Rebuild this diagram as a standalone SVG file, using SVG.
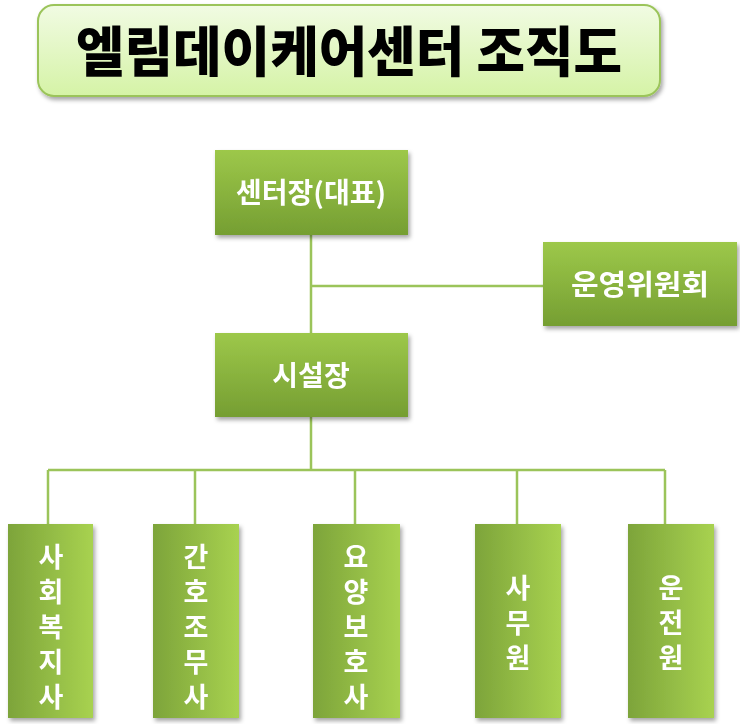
<svg xmlns="http://www.w3.org/2000/svg" width="740" height="724" viewBox="0 0 740 724">
<defs>
<linearGradient id="tg" x1="0" y1="0" x2="0" y2="1"><stop offset="0" stop-color="#f1fbe3"/><stop offset="1" stop-color="#d5f3a6"/></linearGradient>
<linearGradient id="vg" x1="0" y1="0" x2="0" y2="1"><stop offset="0" stop-color="#9dc84a"/><stop offset="1" stop-color="#759e32"/></linearGradient>
<linearGradient id="hg" x1="0" y1="0" x2="1" y2="0"><stop offset="0" stop-color="#7da43a"/><stop offset="1" stop-color="#a8d250"/></linearGradient>
<filter id="sh" x="-10%" y="-10%" width="130%" height="130%"><feDropShadow dx="2" dy="3" stdDeviation="2" flood-color="#000" flood-opacity="0.35"/></filter>
</defs>
<style>
.n{filter:url(#sh)}
.t{font-family:"Noto Sans CJK KR",sans-serif;font-weight:bold;fill:#fff;text-anchor:middle}
.h{font-size:28px}
.v{font-size:27px}
.c{fill:none;stroke:#9bc45a;stroke-width:2.5}
</style>
<g id="title">
<rect x="38" y="5" width="622" height="91" rx="16" fill="url(#tg)" stroke="#9bc45a" stroke-width="2" filter="url(#sh)"/>
<text x="76" y="72" font-family="Noto Sans CJK KR,sans-serif" font-weight="900" font-size="54" fill="#000" textLength="546" lengthAdjust="spacingAndGlyphs">엘림데이케어센터 조직도</text>
</g>
<g id="connectors" class="c">
<path d="M311 235V333M311 286H544M311 417V470M48 470H665M48 470V524M195 470V524M355 470V524M517 470V524M665 470V524"/>
</g>
<g id="n1" class="n"><rect x="215" y="150" width="193" height="85" fill="url(#vg)"/><text class="t h" x="236" y="203" textLength="150" lengthAdjust="spacingAndGlyphs" style="text-anchor:start">센터장(대표)</text></g>
<g id="n2" class="n"><rect x="543" y="242" width="194" height="84" fill="url(#vg)"/><text class="t h" x="571" y="295" textLength="138" lengthAdjust="spacingAndGlyphs" style="text-anchor:start">운영위원회</text></g>
<g id="n3" class="n"><rect x="215" y="333" width="193" height="84" fill="url(#vg)"/><text class="t h" x="311" y="386">시설장</text></g>
<g id="b1" class="n"><rect x="8" y="524" width="85" height="194" fill="url(#hg)"/><text class="t v"><tspan x="51" y="567">사</tspan><tspan x="51" y="602">회</tspan><tspan x="51" y="637">복</tspan><tspan x="51" y="672">지</tspan><tspan x="51" y="707">사</tspan></text></g>
<g id="b2" class="n"><rect x="153" y="524" width="86" height="194" fill="url(#hg)"/><text class="t v"><tspan x="196" y="567">간</tspan><tspan x="196" y="602">호</tspan><tspan x="196" y="637">조</tspan><tspan x="196" y="672">무</tspan><tspan x="196" y="707">사</tspan></text></g>
<g id="b3" class="n"><rect x="313" y="524" width="87" height="194" fill="url(#hg)"/><text class="t v"><tspan x="356" y="567">요</tspan><tspan x="356" y="602">양</tspan><tspan x="356" y="637">보</tspan><tspan x="356" y="672">호</tspan><tspan x="356" y="707">사</tspan></text></g>
<g id="b4" class="n"><rect x="475" y="524" width="86" height="194" fill="url(#hg)"/><text class="t v"><tspan x="518" y="598">사</tspan><tspan x="518" y="633">무</tspan><tspan x="518" y="668">원</tspan></text></g>
<g id="b5" class="n"><rect x="628" y="524" width="86" height="194" fill="url(#hg)"/><text class="t v"><tspan x="671" y="598">운</tspan><tspan x="671" y="633">전</tspan><tspan x="671" y="668">원</tspan></text></g>
</svg>
